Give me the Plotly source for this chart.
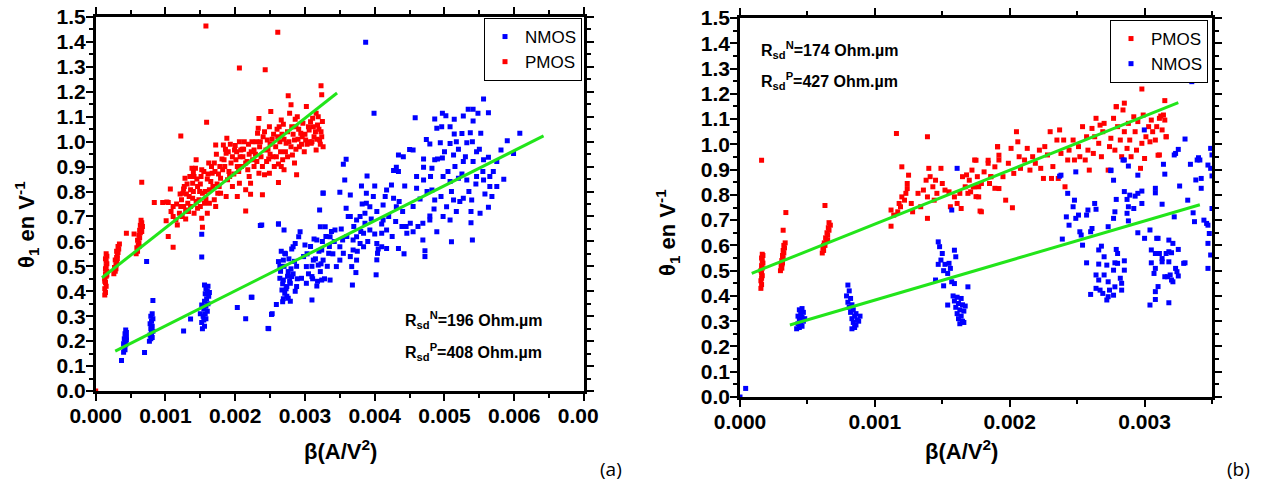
import plotly.graph_objects as go

W, H = 1265, 483
BETA_UNIT = 1e-4  # x values below are written in units of 1e-4 A/V^2

# ---------------- Panel (a) data ----------------
a_pmos_beta_e4 = [
    0.0,
    1.3, 1.4, 1.3, 1.5, 1.4, 1.3, 1.5, 1.4, 1.6, 1.4, 1.5, 1.6, 1.5, 1.4, 1.6, 1.5, 1.3, 1.6,
    2.6, 2.8, 2.7, 2.9, 3.0, 2.8, 3.0, 3.1, 3.2, 3.0, 3.3, 3.2, 3.4, 2.9, 3.1,
    5.8, 6.0, 5.9, 6.1, 6.2, 6.0, 6.3, 6.2, 6.4, 6.3, 6.5, 6.4, 6.6, 6.5, 6.2, 6.6, 6.7,
    4.4, 5.5, 6.6, 11.1, 10.4, 10.1, 8.4, 9.6, 10.4, 12.2, 15.3, 20.6, 24.3, 15.9, 21.5, 15.8, 26.1, 10.7, 10.2,
    10.8, 11.1, 11.5, 11.7, 12.0, 12.2, 12.3, 12.5, 12.7, 12.8, 12.4, 12.9, 13.2, 13.4, 13.6, 13.9, 14.1, 14.3,
    14.4, 13.8, 13.6, 14.1, 14.6, 14.8, 14.9, 15.1, 15.2, 14.6, 15.3, 15.6, 16.0, 15.2, 16.3, 16.5, 16.7, 17.0,
    16.2, 17.2, 17.0, 17.5, 17.7, 17.9, 18.2, 18.4, 18.7, 18.8, 18.3, 18.9, 19.1, 19.4, 19.6, 19.9, 20.1, 20.3,
    20.6, 20.8, 21.1, 21.3, 21.5, 21.8, 22.0, 22.2, 22.2, 20.3, 17.9, 16.3, 22.5, 22.7, 23.0, 23.2, 23.3, 23.4,
    23.7, 23.9, 24.2, 23.9, 24.4, 24.6, 24.9, 25.1, 25.4, 25.6, 25.8, 26.1, 26.2, 26.3, 26.6, 26.8, 27.0, 27.3,
    27.5, 27.6, 27.8, 28.0, 28.2, 28.5, 28.7, 28.8, 28.9, 29.2, 29.4, 29.7, 29.9, 30.2, 30.1, 30.6, 30.9, 31.1,
    31.3, 31.6, 31.8, 32.1, 32.3, 32.3, 32.4, 32.5, 32.6, 31.6, 28.5, 27.5, 26.6, 24.9, 23.4, 22.7, 21.5, 20.6,
    19.6, 18.7, 17.2, 13.9, 11.1,
    19.0, 20.0, 21.0, 22.0, 22.4, 23.5, 24.0, 25.0, 25.5, 26.5, 27.0, 28.0, 29.0, 30.0, 30.5, 31.0, 31.5, 32.0,
    32.4, 29.5, 28.3, 26.0, 24.5, 21.7, 20.9, 18.5, 17.6, 16.8, 15.7, 14.0, 13.0, 12.6, 15.0, 16.0, 17.3, 19.8,
    25.0, 26.9, 28.6, 30.8, 31.9,
    11.6, 12.1, 12.6, 13.1, 13.5, 14.0, 14.5, 15.0, 15.5, 16.1, 16.6, 17.1, 17.8, 18.1, 18.6, 19.3, 20.2, 20.7,
    21.2, 21.9, 22.3, 22.9, 23.6, 24.2, 24.7, 25.3, 25.9, 26.4, 26.7, 27.2, 27.7, 28.1, 28.7, 29.1, 29.6, 30.3,
    30.7, 31.2, 31.7, 32.2, 19.2, 20.5, 23.1, 24.8, 26.2, 12.9, 13.3, 14.4, 15.8, 17.4,
]
a_pmos_theta = [
    0.0,
    0.385, 0.395, 0.41, 0.42, 0.435, 0.45, 0.46, 0.47, 0.48, 0.49, 0.50, 0.51, 0.52, 0.53, 0.54, 0.55, 0.44, 0.465,
    0.47, 0.48, 0.495, 0.505, 0.515, 0.525, 0.535, 0.545, 0.555, 0.56, 0.57, 0.58, 0.59, 0.49, 0.53,
    0.55, 0.56, 0.575, 0.585, 0.595, 0.605, 0.615, 0.625, 0.635, 0.645, 0.655, 0.665, 0.675, 0.685, 0.58, 0.64, 0.66,
    0.633, 0.63, 0.837, 0.577, 0.62, 0.683, 0.756, 0.756, 0.756, 1.023, 0.657, 1.295, 1.288, 1.078, 0.722, 1.464, 1.439, 0.81, 0.758,
    0.72, 0.70, 0.686, 0.666, 0.713, 0.74, 0.767, 0.793, 0.82, 0.853, 0.70, 0.726, 0.753, 0.78, 0.807, 0.833, 0.86, 0.893,
    0.927, 0.893, 0.74, 0.713, 0.733, 0.767, 0.80, 0.86, 0.887, 0.82, 0.793, 0.753, 0.713, 0.693, 0.807, 0.84, 0.873, 0.914,
    0.914, 0.987, 0.767, 0.793, 0.82, 0.853, 0.887, 0.927, 0.954, 1.014, 0.987, 0.847, 0.88, 0.914, 0.94, 0.967, 0.927, 0.9,
    1.0, 0.967, 0.94, 1.0, 0.914, 0.887, 0.86, 0.833, 0.789, 0.78, 0.793, 0.753, 0.927, 0.967, 1.0, 1.034, 1.054, 1.093,
    0.94, 0.9, 0.867, 0.787, 0.967, 1.007, 1.06, 1.121, 0.94, 0.9, 0.98, 1.02, 0.836, 1.06, 1.087, 0.927, 0.887, 0.994,
    1.04, 1.184, 1.114, 1.148, 0.947, 1.007, 1.06, 0.867, 1.1, 0.98, 1.034, 1.074, 0.96, 1.141, 1.007, 1.047, 0.994, 1.094,
    1.02, 0.967, 1.067, 1.007, 1.04, 1.224, 1.188, 1.081, 0.98, 1.114, 0.914, 0.94, 0.9, 0.873, 0.873, 0.9, 0.807, 0.833,
    0.82, 0.78, 0.74, 0.773, 0.74,
    0.96, 0.985, 0.97, 0.95, 1.0, 0.98, 1.02, 0.99, 1.03, 0.96, 1.01, 0.98, 1.01, 1.03, 1.06, 1.0, 1.04, 1.05,
    1.02, 0.99, 1.03, 1.05, 0.92, 0.92, 0.9, 0.9, 0.87, 0.82, 0.8, 0.8, 0.79, 0.74, 0.74, 0.85, 0.95, 0.87,
    0.95, 1.07, 1.09, 1.08, 1.1,
    0.75, 0.79, 0.81, 0.83, 0.86, 0.88, 0.85, 0.83, 0.88, 0.87, 0.9, 0.88, 0.9, 0.93, 0.97, 0.99, 0.96, 0.94,
    0.97, 0.99, 0.96, 0.95, 1.0, 1.04, 0.97, 1.01, 0.94, 1.0, 1.03, 0.96, 1.0, 1.06, 0.97, 1.05, 1.02, 0.99,
    1.0, 1.06, 1.01, 0.99, 0.86, 0.88, 0.92, 0.93, 0.91, 0.69, 0.72, 0.76, 0.77, 0.83,
]

a_nmos_beta_e4 = [
    4.0, 4.2, 4.1, 4.3, 4.0, 4.2, 4.4, 4.1, 4.3, 4.2, 4.4, 4.3, 4.1, 4.4,
    3.7, 7.0, 7.3,
    7.7, 7.9, 8.1, 7.8, 8.0, 8.2, 7.9, 8.1, 7.8, 8.0, 8.2, 7.9, 8.1, 8.2, 8.0,
    15.3, 15.6, 15.2, 15.5, 15.8, 15.4, 15.7, 16.0, 15.5, 15.8, 16.1, 15.6, 15.9, 16.2, 15.7, 16.0, 15.8, 16.1, 15.6, 16.3, 15.2, 15.0,
    15.2, 15.2, 13.6, 12.6, 20.3, 22.3, 21.5, 25.3, 24.8, 23.8, 26.2, 27.0, 32.6, 32.1, 38.7,
    39.9, 45.8, 48.6, 49.7, 50.2, 51.4, 52.7, 53.4, 54.1, 54.8, 55.6, 56.3, 60.8, 59.0, 59.9, 48.9, 49.6, 50.8,
    51.4, 52.5, 53.7, 54.1, 55.2, 47.4, 47.9, 49.4, 50.8, 51.7, 53.2, 54.6, 56.3, 57.5, 58.1, 55.6, 54.1, 52.7,
    51.3, 49.7, 48.6, 48.2, 47.0, 45.5, 45.0, 44.1, 43.4, 43.1, 43.4, 42.7, 35.9, 35.5, 38.9, 35.7, 32.6, 35.0,
    36.5, 38.1, 38.8, 40.0, 41.7, 42.4, 44.3, 46.0, 47.0, 48.2, 49.8, 50.8, 52.0, 53.2, 54.6, 55.6, 56.5, 57.5,
    58.5, 56.8, 56.3, 55.1, 53.9, 52.7, 51.3, 50.3, 51.7, 50.8, 49.8, 48.6, 47.9, 48.9, 47.9, 46.9, 46.2, 45.5,
    45.1, 44.6, 43.9, 46.9, 47.2, 47.2, 51.0, 53.8, 54.0, 43.1, 42.7, 41.2, 40.3, 41.2, 41.7, 41.0, 40.3, 41.0,
    41.7, 40.4, 40.3, 40.2, 43.4, 44.2, 38.8, 39.3, 38.6, 37.9, 37.4, 38.6, 39.3, 38.4, 37.4, 36.9, 37.9, 38.4,
    36.9, 36.5, 37.4, 36.7, 37.3, 36.8, 36.2, 35.9, 35.4, 35.0, 35.5, 35.0, 34.3, 33.6, 32.9, 32.2, 31.7, 32.4,
    33.4, 32.6, 31.9, 32.2, 32.4, 31.7, 31.0, 31.0, 30.2, 30.0, 29.3, 29.1, 28.6, 28.3, 27.1, 26.9, 26.2, 26.4,
    26.9, 27.6, 28.1, 27.9, 27.4, 26.7, 27.1, 27.6, 26.8, 25.9, 25.2, 24.7, 26.2, 23.6, 22.4, 29.5, 30.2, 28.8,
    29.8, 31.2, 33.6, 34.5,
    26.5, 27.0, 27.5, 28.0, 28.5, 26.8, 27.3, 27.8, 28.3, 28.8, 27.2, 27.7, 26.6, 28.1, 28.9, 27.4, 26.9, 28.6,
    27.9, 26.4,
    30.5, 31.0, 31.5, 32.0, 32.5, 33.0, 33.5, 34.0, 30.8, 31.3, 33.2, 32.8, 31.8, 30.3, 33.8, 34.2, 32.3, 31.1,
    36.0, 37.0, 38.0, 39.0, 40.0, 41.0, 42.0, 43.0, 44.0, 39.5, 40.5, 42.5, 37.5, 38.2, 41.5, 43.5, 44.5, 36.5,
    35.2, 39.8,
    45.5, 46.5, 47.5, 48.5, 49.5, 50.5, 51.5, 52.5, 53.5, 54.5, 55.5, 56.5, 49.0, 50.0, 52.0, 53.0, 54.0, 55.0,
    47.0, 48.0, 51.0, 46.0, 53.8, 52.2, 57.0, 55.8,
]
a_nmos_theta = [
    0.155, 0.165, 0.175, 0.185, 0.19, 0.2, 0.205, 0.21, 0.22, 0.23, 0.235, 0.245, 0.18, 0.215,
    0.122, 0.154, 0.519,
    0.2, 0.21, 0.215, 0.225, 0.235, 0.24, 0.25, 0.26, 0.27, 0.28, 0.29, 0.3, 0.31, 0.363, 0.255,
    0.25, 0.26, 0.275, 0.285, 0.29, 0.3, 0.31, 0.32, 0.33, 0.34, 0.35, 0.36, 0.37, 0.38, 0.39, 0.4, 0.41, 0.42, 0.425, 0.395, 0.345, 0.31,
    0.629, 0.537, 0.289, 0.241, 0.335, 0.376, 0.29, 0.31, 0.25, 0.666, 0.67, 0.646, 0.794, 0.726, 1.399,
    1.114, 1.096, 1.091, 1.114, 1.104, 1.09, 1.103, 1.13, 1.13, 1.114, 1.171, 1.116, 1.034, 1.004, 0.953, 1.054, 1.06, 1.06,
    1.031, 1.033, 1.036, 1.083, 1.034, 1.009, 0.991, 0.996, 0.993, 1.0, 0.996, 0.96, 0.937, 0.92, 0.967, 0.927, 0.92, 0.92,
    0.947, 0.934, 0.927, 0.893, 0.897, 0.967, 0.969, 0.94, 0.947, 0.897, 0.88, 0.884, 0.929, 0.909, 0.862, 0.846, 0.793, 0.797,
    0.786, 0.822, 0.793, 0.822, 0.806, 0.826, 0.822, 0.813, 0.846, 0.806, 0.86, 0.84, 0.853, 0.846, 0.86, 0.846, 0.82, 0.82,
    0.849, 0.78, 0.737, 0.713, 0.766, 0.773, 0.766, 0.739, 0.72, 0.686, 0.7, 0.766, 0.702, 0.639, 0.686, 0.673, 0.66, 0.639,
    0.673, 0.633, 0.66, 0.606, 0.563, 0.539, 0.599, 0.675, 0.606, 0.739, 0.773, 0.746, 0.72, 0.686, 0.646, 0.633, 0.592, 0.579,
    0.572, 0.552, 0.526, 0.466, 0.572, 0.55, 0.753, 0.739, 0.713, 0.7, 0.686, 0.673, 0.646, 0.633, 0.619, 0.606, 0.592, 0.579,
    0.566, 0.539, 0.525, 0.499, 0.475, 0.425, 0.7, 0.733, 0.606, 0.579, 0.552, 0.525, 0.646, 0.619, 0.659, 0.659, 0.606, 0.566,
    0.552, 0.525, 0.505, 0.479, 0.445, 0.421, 0.459, 0.365, 0.499, 0.586, 0.639, 0.619, 0.592, 0.579, 0.552, 0.525, 0.519, 0.452,
    0.445, 0.479, 0.459, 0.432, 0.419, 0.405, 0.392, 0.372, 0.358, 0.347, 0.307, 0.251, 0.67, 0.664, 0.376, 0.452, 0.432, 0.419,
    0.539, 0.525, 0.445, 0.499,
    0.48, 0.5, 0.46, 0.49, 0.52, 0.43, 0.41, 0.44, 0.47, 0.50, 0.55, 0.53, 0.56, 0.57, 0.45, 0.38, 0.37, 0.40,
    0.36, 0.5,
    0.47, 0.5, 0.53, 0.56, 0.6, 0.62, 0.58, 0.55, 0.58, 0.61, 0.5, 0.45, 0.44, 0.55, 0.64, 0.6, 0.51, 0.45,
    0.62, 0.66, 0.64, 0.6, 0.63, 0.67, 0.7, 0.68, 0.72, 0.69, 0.57, 0.62, 0.56, 0.75, 0.78, 0.76, 0.66, 0.7,
    0.65, 0.78,
    0.74, 0.77, 0.8, 0.73, 0.78, 0.88, 0.9, 0.87, 0.8, 0.83, 0.88, 0.86, 0.93, 0.96, 0.97, 0.94, 1.0, 0.97,
    0.93, 0.86, 0.8, 0.86, 0.72, 0.76, 0.88, 0.79,
]

a_pmos_fit_beta = [0.00009, 0.00346]
a_pmos_fit_theta = [0.454, 1.195]
a_nmos_fit_beta = [0.00028, 0.00642]
a_nmos_fit_theta = [0.16, 1.023]

# ---------------- Panel (b) data ----------------
b_pmos_beta_e4 = [
    1.55, 1.6, 1.55, 1.6, 1.65, 1.6, 1.55, 1.65, 1.6, 1.7, 1.65, 1.6, 1.7, 1.65, 1.6,
    3.0, 3.1, 3.05, 3.15, 3.1, 3.2, 3.15, 3.25, 3.2, 3.3, 3.25, 3.35, 3.1, 3.2, 3.4,
    6.1, 6.2, 6.15, 6.3, 6.25, 6.4, 6.35, 6.5, 6.45, 6.6, 6.55, 6.7, 6.6, 6.2, 6.5, 6.3,
    11.6, 13.9, 12.0, 11.2, 11.2, 11.4, 11.7, 11.9, 12.2, 12.3, 12.4, 12.5, 12.4, 12.0, 11.8, 12.7, 12.8, 13.2,
    13.4, 13.6, 13.8, 13.9, 13.9, 14.0, 14.1, 14.3, 14.4, 14.5, 14.6, 14.9, 15.0, 15.2, 15.5, 15.6, 15.9, 16.1,
    16.3, 16.4, 16.5, 16.7, 17.0, 17.1, 17.2, 17.4, 17.5, 17.6, 17.7, 17.8, 17.9, 18.1, 18.4, 18.5, 18.6, 18.9,
    19.1, 19.2, 19.2,
    16.8, 17.4, 16.9, 17.3, 17.5, 17.7, 17.9, 18.4, 18.6, 18.9, 19.1, 19.2, 19.5, 19.7, 19.9, 20.1, 20.2, 20.3,
    20.5, 20.6, 20.7, 20.8, 21.1, 21.3, 21.5, 21.7, 21.9, 22.2, 22.3, 22.5, 22.6, 22.8, 23.0, 23.1, 23.2, 23.5,
    23.6, 23.7, 23.8, 24.0, 24.1, 24.3, 24.4, 24.7, 24.8, 25.1, 25.2, 25.4, 25.6, 25.7, 25.8, 25.9, 26.1, 26.2,
    26.3, 26.4, 26.6, 26.7, 26.8, 26.9, 27.0, 27.3, 27.4, 27.5, 27.7, 27.8, 27.9, 28.0, 28.2, 28.3, 28.4, 28.5,
    28.7, 28.8, 28.9, 29.0, 29.2, 29.3, 29.4, 29.5, 29.7, 29.8, 29.8, 29.9, 30.0, 30.1, 30.3, 30.4, 30.5, 30.6,
    30.8, 30.9, 31.0, 31.1, 31.3, 31.4, 31.5, 31.6, 31.5, 28.5, 27.9, 31.2, 31.6, 31.1,
]
b_pmos_theta = [
    0.43, 0.445, 0.46, 0.47, 0.48, 0.49, 0.5, 0.51, 0.52, 0.53, 0.54, 0.55, 0.56, 0.565, 0.937,
    0.5, 0.51, 0.52, 0.53, 0.54, 0.55, 0.56, 0.57, 0.58, 0.59, 0.6, 0.61, 0.525, 0.66, 0.73,
    0.57, 0.58, 0.59, 0.6, 0.61, 0.62, 0.63, 0.64, 0.65, 0.66, 0.67, 0.68, 0.69, 0.6, 0.62, 0.758,
    1.043, 1.03, 0.911, 0.74, 0.676, 0.72, 0.733, 0.753, 0.779, 0.806, 0.825, 0.878, 0.845, 0.792, 0.766, 0.766, 0.733, 0.806,
    0.753, 0.819, 0.858, 0.792, 0.707, 0.905, 0.872, 0.832, 0.779, 0.858, 0.806, 0.905, 0.845, 0.819, 0.812, 0.753, 0.792, 0.766,
    0.806, 0.746, 0.872, 0.832, 0.858, 0.812, 0.898, 0.832, 0.937, 0.872, 0.792, 0.736, 0.845, 0.891, 0.937, 0.845, 0.872, 0.911,
    0.99, 0.957, 0.825,
    0.879, 0.938, 0.806, 0.832, 0.793, 0.832, 0.733, 0.925, 0.872, 0.826, 0.991, 0.938, 0.872, 0.779, 0.925, 0.984, 0.749, 0.885,
    1.05, 1.01, 0.951, 0.905, 0.938, 0.984, 0.898, 0.951, 0.925, 0.977, 0.905, 0.865, 0.991, 0.958, 1.05, 0.865, 0.912, 1.017,
    0.865, 1.057, 0.964, 1.017, 0.832, 0.938, 0.977, 1.017, 0.938, 0.991, 0.951, 1.07, 0.938, 1.03, 0.977, 0.898, 1.063, 0.964,
    1.03, 1.103, 1.004, 1.076, 0.951, 1.05, 1.083, 0.898, 0.991, 1.024, 1.103, 0.977, 1.149, 1.07, 1.017, 0.951, 1.136, 1.05,
    0.984, 1.083, 1.017, 0.951, 1.109, 1.05, 0.977, 1.09, 0.905, 1.004, 1.219, 1.116, 0.944, 1.03, 1.07, 1.01, 1.096, 1.05,
    1.017, 1.07, 0.957, 1.103, 1.057, 1.116, 1.096, 1.03, 1.173, 1.163, 1.149, 1.112, 1.03, 0.958,
]

b_nmos_beta_e4 = [
    0.0, 0.42,
    4.2, 4.4, 4.6, 4.3, 4.5, 4.7, 4.4, 4.6, 4.3, 4.5, 4.7, 4.4, 4.6, 4.8,
    8.0, 8.1, 7.9, 8.2, 8.0, 8.3, 8.1, 8.4, 8.2, 8.6, 8.5, 8.3, 8.7, 8.4, 8.6, 8.8, 8.5, 8.3, 8.9,
    14.7, 14.8, 15.0, 14.9, 14.7, 15.2, 15.5, 15.6, 15.1, 15.4, 14.5, 15.1, 15.9, 15.9, 16.0, 15.7, 15.4, 16.9,
    15.8, 16.1, 16.4, 15.9, 16.2, 16.5, 16.0, 16.3, 16.6, 16.1, 16.4, 16.2, 16.5, 16.3, 16.6, 16.7,
    16.1, 15.7, 24.9, 23.8, 28.4, 29.98, 27.5,
    23.7, 24.3, 24.8, 24.7, 25.1, 24.2, 24.4, 24.9, 25.2, 25.3, 23.9, 25.4, 25.7, 25.8, 26.1, 26.0, 26.3, 26.4,
    25.7, 26.0, 26.6, 26.8, 26.6, 26.4, 26.6, 26.4, 26.7, 26.9, 27.2, 27.3, 27.0, 27.2, 27.0, 27.3, 27.4, 27.7,
    27.8, 27.7, 27.8, 27.9, 28.0, 28.0, 28.2, 28.3, 28.3, 28.5, 28.5, 27.3, 27.7, 27.8, 27.9, 27.7, 27.5, 28.5,
    28.7, 28.8, 28.7, 28.8, 28.9, 29.2, 29.3, 29.5, 29.8, 29.8, 29.5, 29.5, 28.8, 28.5, 30.0, 30.4, 30.5, 30.4,
    30.5, 30.7, 30.8, 30.8, 30.9, 31.0, 31.1, 31.3, 31.3, 31.5, 30.8, 30.8, 31.3, 31.5, 31.4, 31.6, 31.8, 31.8,
    31.8, 31.7, 31.9, 32.0, 32.1, 32.3, 32.4, 32.5, 32.0, 32.5, 30.8, 30.8, 31.8, 31.0, 32.2, 32.1, 32.2, 32.3,
    32.5, 33.0, 33.5, 32.6, 32.9, 33.0, 33.2, 33.4, 33.6, 33.7, 33.8, 33.9, 34.0, 34.1, 34.2, 34.2, 34.4, 34.6,
    34.7, 34.8, 34.7, 34.9, 34.7, 34.7, 34.9, 34.9, 35.0, 35.0, 35.0,
]
b_nmos_theta = [
    0.0, 0.034,
    0.27, 0.275, 0.28, 0.29, 0.295, 0.3, 0.31, 0.315, 0.32, 0.33, 0.335, 0.345, 0.35, 0.31,
    0.443, 0.42, 0.4, 0.39, 0.375, 0.365, 0.355, 0.345, 0.335, 0.33, 0.32, 0.31, 0.305, 0.295, 0.285, 0.3, 0.275, 0.27, 0.32,
    0.614, 0.595, 0.568, 0.542, 0.525, 0.525, 0.529, 0.509, 0.5, 0.489, 0.463, 0.44, 0.449, 0.581, 0.555, 0.456, 0.364, 0.436,
    0.40, 0.395, 0.39, 0.38, 0.37, 0.365, 0.355, 0.345, 0.34, 0.33, 0.32, 0.31, 0.3, 0.29, 0.295, 0.36,
    0.905, 0.74, 0.891, 0.878, 0.938, 1.057, 0.896,
    0.874, 0.806, 0.779, 0.753, 0.72, 0.713, 0.68, 0.707, 0.654, 0.641, 0.625, 0.601, 0.72, 0.74, 0.667, 0.654, 0.766, 0.743,
    0.531, 0.406, 0.582, 0.597, 0.526, 0.483, 0.463, 0.43, 0.423, 0.41, 0.384, 0.397, 0.555, 0.522, 0.483, 0.456, 0.423, 0.403,
    0.436, 0.502, 0.531, 0.584, 0.568, 0.529, 0.47, 0.45, 0.423, 0.502, 0.539, 0.674, 0.707, 0.733, 0.782, 0.858, 0.898, 0.813,
    0.782, 0.753, 0.727, 0.697, 0.799, 0.746, 0.795, 0.806, 0.815, 0.766, 0.65, 0.878, 0.914, 0.938, 0.628, 0.661, 0.582, 0.364,
    0.531, 0.489, 0.509, 0.568, 0.628, 0.628, 0.568, 0.535, 0.548, 0.476, 0.808, 0.826, 0.763, 0.882, 0.921, 0.568, 0.621, 0.575,
    0.535, 0.476, 0.483, 0.463, 0.456, 0.509, 0.496, 0.479, 0.571, 0.584, 0.417, 0.386, 0.373, 0.437, 0.713, 0.608, 0.958, 0.964,
    0.98, 1.021, 1.248, 0.835, 0.529, 0.531, 0.779, 0.921, 0.729, 0.694, 0.859, 0.938, 0.947, 0.938, 0.865, 0.826, 0.7, 0.687,
    0.68, 0.647, 0.608, 0.562, 0.509, 0.918, 0.905, 0.984, 0.958, 0.875, 0.746,
]

b_pmos_fit_beta = [0.000087, 0.00325]
b_pmos_fit_theta = [0.4895, 1.165]
b_nmos_fit_beta = [0.00037, 0.00341]
b_nmos_fit_theta = [0.285, 0.761]

a_x_ticks = [0.0, 0.001, 0.002, 0.003, 0.004, 0.005, 0.006, 0.007]
a_x_ticktext = ["0.000", "0.001", "0.002", "0.003", "0.004", "0.005", "0.006",
                "0.00<span style='color:rgba(0,0,0,0)'>7</span>"]
b_x_ticks = [0.0, 0.001, 0.002, 0.003]
b_x_ticktext = ["0.000", "0.001", "0.002", "0.003"]

# ---------------- Styling ----------------
RED = "#FF0000"
BLUE = "#0000FF"
GREEN = "#22E51A"
FONT = "Liberation Sans"


def px(x):
    return x / W


def py(y):
    return 1 - y / H


def scale(vals):
    return [v * BETA_UNIT for v in vals]


fig = go.Figure()

mk = dict(symbol="square", size=5, line=dict(width=0))

# Panel (a)
fig.add_trace(go.Scatter(x=scale(a_nmos_beta_e4), y=a_nmos_theta, mode="markers", name="NMOS",
                         marker=dict(color=BLUE, **mk), xaxis="x", yaxis="y", legend="legend"))
fig.add_trace(go.Scatter(x=scale(a_pmos_beta_e4), y=a_pmos_theta, mode="markers", name="PMOS",
                         marker=dict(color=RED, **mk), xaxis="x", yaxis="y", legend="legend"))
fig.add_trace(go.Scatter(x=a_pmos_fit_beta, y=a_pmos_fit_theta, mode="lines", showlegend=False,
                         line=dict(color=GREEN, width=3), xaxis="x", yaxis="y"))
fig.add_trace(go.Scatter(x=a_nmos_fit_beta, y=a_nmos_fit_theta, mode="lines", showlegend=False,
                         line=dict(color=GREEN, width=3), xaxis="x", yaxis="y"))

# Panel (b)
fig.add_trace(go.Scatter(x=scale(b_pmos_beta_e4), y=b_pmos_theta, mode="markers", name="PMOS",
                         marker=dict(color=RED, **mk), xaxis="x2", yaxis="y2", legend="legend2"))
fig.add_trace(go.Scatter(x=scale(b_nmos_beta_e4), y=b_nmos_theta, mode="markers", name="NMOS",
                         marker=dict(color=BLUE, **mk), xaxis="x2", yaxis="y2", legend="legend2"))
fig.add_trace(go.Scatter(x=b_pmos_fit_beta, y=b_pmos_fit_theta, mode="lines", showlegend=False,
                         line=dict(color=GREEN, width=3), xaxis="x2", yaxis="y2"))
fig.add_trace(go.Scatter(x=b_nmos_fit_beta, y=b_nmos_fit_theta, mode="lines", showlegend=False,
                         line=dict(color=GREEN, width=3), xaxis="x2", yaxis="y2"))

xtickfont = dict(family=FONT, size=21, color="black", weight="bold")
ytickfont = dict(family=FONT, size=21, color="black", weight="bold")
common = dict(showline=True, linecolor="black", linewidth=2.5, mirror="allticks",
              ticks="outside", ticklen=7, tickwidth=2, tickcolor="black",
              showgrid=False, zeroline=False, automargin=False)
minor = dict(ticks="outside", ticklen=4, tickwidth=2, tickcolor="black", tick0=0)

fig.update_layout(
    width=W, height=H, margin=dict(l=0, r=0, t=0, b=0, pad=0, autoexpand=False),
    paper_bgcolor="white", plot_bgcolor="white",
    xaxis=dict(domain=[px(95.7), px(584)], range=[0, 0.007], tickmode="array",
               tickvals=a_x_ticks, ticktext=a_x_ticktext, anchor="y", tickfont=xtickfont,
               ticklabelstandoff=-3, minor=dict(dtick=0.0005, **minor), **common),
    yaxis=dict(domain=[py(391), py(17)], range=[0, 1.5], dtick=0.1, tick0=0, tickformat=".1f", anchor="x",
               tickfont=ytickfont, ticklabelstandoff=-4, minor=dict(dtick=0.05, **minor), **common),
    xaxis2=dict(domain=[px(740), px(1212)], range=[0, 0.0035], tickmode="array",
                tickvals=b_x_ticks, ticktext=b_x_ticktext, anchor="y2", tickfont=xtickfont,
                ticklabelstandoff=-3, minor=dict(dtick=0.0005, **minor), **common),
    yaxis2=dict(domain=[py(397), py(18)], range=[0, 1.5], dtick=0.1, tick0=0, tickformat=".1f", anchor="x2",
                tickfont=ytickfont, ticklabelstandoff=-4, minor=dict(dtick=0.05, **minor), **common),
    legend=dict(x=px(582), xanchor="right", y=py(18), yanchor="top", bgcolor="white",
                bordercolor="black", borderwidth=1, font=dict(family=FONT, size=17, color="black"),
                tracegroupgap=0, itemsizing="trace"),
    legend2=dict(x=px(1208), xanchor="right", y=py(20), yanchor="top", bgcolor="white",
                 bordercolor="black", borderwidth=1, font=dict(family=FONT, size=17, color="black"),
                 tracegroupgap=0, itemsizing="trace"),
    showlegend=True,
)

ann_font = dict(family=FONT, size=16, color="black", weight="bold")
title_font = dict(family=FONT, size=22, color="black", weight="bold")
annotations = [
    dict(x=px(403), y=py(320), text="R<sub>sd</sub><sup>N</sup>=196 Ohm.µm", xanchor="left", yanchor="middle", font=ann_font),
    dict(x=px(403), y=py(352), text="R<sub>sd</sub><sup>P</sup>=408 Ohm.µm", xanchor="left", yanchor="middle", font=ann_font),
    dict(x=px(759), y=py(50), text="R<sub>sd</sub><sup>N</sup>=174 Ohm.µm", xanchor="left", yanchor="middle", font=ann_font),
    dict(x=px(759), y=py(81), text="R<sub>sd</sub><sup>P</sup>=427 Ohm.µm", xanchor="left", yanchor="middle", font=ann_font),
    dict(x=px(340), y=py(450), text="β(A/V<sup>2</sup>)", xanchor="center", yanchor="middle", font=title_font),
    dict(x=px(961), y=py(450), text="β(A/V<sup>2</sup>)", xanchor="center", yanchor="middle", font=title_font),
    dict(x=px(26), y=py(225), text="θ<sub>1</sub> en V<sup>-1</sup>", textangle=-90, xanchor="center", yanchor="middle", font=title_font),
    dict(x=px(668), y=py(232), text="θ<sub>1</sub> en V<sup>-1</sup>", textangle=-90, xanchor="center", yanchor="middle", font=title_font),
    dict(x=px(611), y=py(469), text="(a)", xanchor="center", yanchor="middle", font=dict(family="Open Sans", size=19, color="black")),
    dict(x=px(1238), y=py(469), text="(b)", xanchor="center", yanchor="middle", font=dict(family="Open Sans", size=19, color="black")),
]
for a in annotations:
    a.update(xref="paper", yref="paper", showarrow=False)
fig.update_layout(annotations=annotations)

fig.write_html("out.html", config={"displayModeBar": False},
               post_script="document.body.style.margin='0';document.body.style.overflow='hidden';")
